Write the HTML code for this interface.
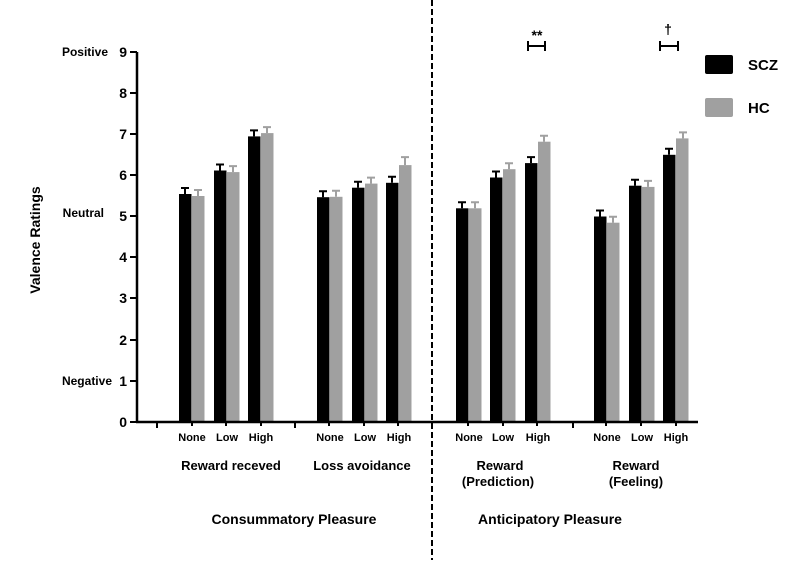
<!DOCTYPE html><html><head><style>body{margin:0;background:#fff}svg{font-family:"Liberation Sans",sans-serif;font-weight:bold}</style></head><body>
<svg width="799" height="560" xmlns="http://www.w3.org/2000/svg">
<g stroke-width="2" fill="none">
<path stroke="#000" d="M185 194v-6m-4 0h8M220 170.5v-6m-4 0h8M254 136.4v-6m-4 0h8M323 197.2v-6m-4 0h8M358 187.7v-6m-4 0h8M392 182.8v-6m-4 0h8M462 208.3v-6m-4 0h8M496 177.5v-6m-4 0h8M531 163.1v-6m-4 0h8M600 216.5v-6m-4 0h8M635 185.7v-6m-4 0h8M669 154.8v-6m-4 0h8"/>
<path stroke="#a0a0a0" d="M198 196v-6m-4 0h8M233 172.1v-6m-4 0h8M267 133.1v-6m-4 0h8M336 196.8v-6m-4 0h8M371 183.6v-6m-4 0h8M405 165.1v-8m-4 0h8M475 208.3v-6m-4 0h8M509 169.2v-6m-4 0h8M544 141.7v-6m-4 0h8M613 222.7v-6m-4 0h8M648 186.9v-6m-4 0h8M683 138.4v-6m-4 0h8"/>
</g>
<g fill="#000">
<rect x="179" y="194" width="12.5" height="228"/><rect x="214" y="170.5" width="12.5" height="251.5"/><rect x="248" y="136.4" width="12.5" height="285.6"/>
<rect x="317" y="197.2" width="12.5" height="224.8"/><rect x="352" y="187.7" width="12.5" height="234.3"/><rect x="386" y="182.8" width="12.5" height="239.2"/>
<rect x="456" y="208.3" width="12.5" height="213.7"/><rect x="490" y="177.5" width="12.5" height="244.5"/><rect x="525" y="163.1" width="12.5" height="258.9"/>
<rect x="594" y="216.5" width="12.5" height="205.5"/><rect x="629" y="185.7" width="12.5" height="236.3"/><rect x="663" y="154.8" width="12.5" height="267.2"/>
</g>
<g fill="#a0a0a0">
<rect x="192" y="196" width="12.5" height="226"/><rect x="227" y="172.1" width="12.5" height="249.9"/><rect x="261" y="133.1" width="12.5" height="288.9"/>
<rect x="330" y="196.8" width="12.5" height="225.2"/><rect x="365" y="183.6" width="12.5" height="238.4"/><rect x="399" y="165.1" width="12.5" height="256.9"/>
<rect x="469" y="208.3" width="12.5" height="213.7"/><rect x="503" y="169.2" width="12.5" height="252.8"/><rect x="538" y="141.7" width="12.5" height="280.3"/>
<rect x="607" y="222.7" width="12.5" height="199.3"/><rect x="642" y="186.9" width="12.5" height="235.1"/><rect x="676" y="138.4" width="12.5" height="283.6"/>
</g>
<line x1="137" y1="52" x2="137" y2="423" stroke="#000" stroke-width="2.5"/>
<line x1="136" y1="422" x2="698" y2="422" stroke="#000" stroke-width="2.5"/>
<g stroke="#000" stroke-width="2">
<line x1="130" y1="52" x2="137" y2="52"/><line x1="130" y1="93" x2="137" y2="93"/><line x1="130" y1="134" x2="137" y2="134"/><line x1="130" y1="175" x2="137" y2="175"/><line x1="130" y1="216" x2="137" y2="216"/><line x1="130" y1="257" x2="137" y2="257"/><line x1="130" y1="298" x2="137" y2="298"/><line x1="130" y1="340" x2="137" y2="340"/><line x1="130" y1="381" x2="137" y2="381"/><line x1="130" y1="422" x2="137" y2="422"/>
<line x1="157" y1="422" x2="157" y2="428"/><line x1="295" y1="422" x2="295" y2="428"/><line x1="573" y1="422" x2="573" y2="428"/>
<line x1="192" y1="422" x2="192" y2="426"/><line x1="226" y1="422" x2="226" y2="426"/><line x1="261" y1="422" x2="261" y2="426"/>
<line x1="329" y1="422" x2="329" y2="426"/><line x1="364" y1="422" x2="364" y2="426"/><line x1="398" y1="422" x2="398" y2="426"/>
<line x1="468" y1="422" x2="468" y2="426"/><line x1="503" y1="422" x2="503" y2="426"/><line x1="537" y1="422" x2="537" y2="426"/>
<line x1="606" y1="422" x2="606" y2="426"/><line x1="641" y1="422" x2="641" y2="426"/><line x1="676" y1="422" x2="676" y2="426"/>
</g>
<line x1="432" y1="0" x2="432" y2="560" stroke="#000" stroke-width="2" stroke-dasharray="6,3"/>
<g font-size="14" text-anchor="end">
<text x="127" y="57">9</text><text x="127" y="98">8</text><text x="127" y="139">7</text><text x="127" y="180">6</text><text x="127" y="221">5</text><text x="127" y="262">4</text><text x="127" y="303">3</text><text x="127" y="345">2</text><text x="127" y="386">1</text><text x="127" y="427">0</text>
</g>
<g font-size="12" text-anchor="end">
<text x="108" y="56">Positive</text><text x="104" y="217">Neutral</text><text x="112" y="385">Negative</text>
</g>
<text font-size="14" text-anchor="middle" transform="translate(40,240) rotate(-90)">Valence Ratings</text>
<g font-size="11" text-anchor="middle">
<text x="192" y="441">None</text><text x="227" y="441">Low</text><text x="261" y="441">High</text>
<text x="330" y="441">None</text><text x="365" y="441">Low</text><text x="399" y="441">High</text>
<text x="469" y="441">None</text><text x="503" y="441">Low</text><text x="538" y="441">High</text>
<text x="607" y="441">None</text><text x="642" y="441">Low</text><text x="676" y="441">High</text>
</g>
<g font-size="13" text-anchor="middle">
<text x="231" y="470">Reward receved</text><text x="362" y="470">Loss avoidance</text>
<text x="500" y="470">Reward</text><text x="498" y="486">(Prediction)</text>
<text x="636" y="470">Reward</text><text x="636" y="486">(Feeling)</text>
<text x="294" y="524" font-size="14">Consummatory Pleasure</text>
<text x="550" y="524" font-size="14">Anticipatory Pleasure</text>
</g>
<rect x="705" y="55" width="28" height="19" rx="2" fill="#000"/><text x="748" y="70" font-size="15">SCZ</text>
<rect x="705" y="98" width="28" height="19" rx="2" fill="#a0a0a0"/><text x="748" y="113" font-size="15">HC</text>
<g stroke="#000" stroke-width="2" fill="none">
<path d="M528 41v10M528 46h17M545 41v10"/><path d="M660 41v10M660 46h18M678 41v10"/>
</g>
<text x="537" y="40" font-size="14" text-anchor="middle">**</text>
<text x="668" y="34" font-size="14" text-anchor="middle">†</text>
</svg></body></html>
